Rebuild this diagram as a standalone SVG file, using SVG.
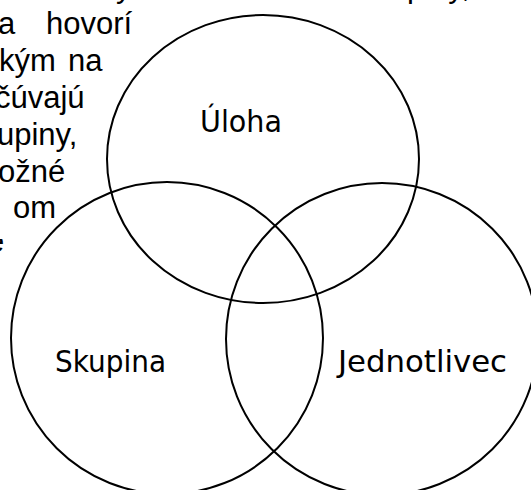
<svg xmlns="http://www.w3.org/2000/svg" width="531" height="490" viewBox="0 0 531 490">
  <style>
    .ring { fill: none; stroke: #000; stroke-width: 2; }
    .label { font-family: "DejaVu Sans", "Noto Sans", sans-serif; font-size: 30px; fill: #000; }
    .body { font-family: "Liberation Sans", Arial, sans-serif; font-size: 31px; fill: #000; }
  </style>
  <defs>
    <clipPath id="edgeClip">
      <rect x="0" y="239" width="4" height="13"/>
    </clipPath>
  </defs>
  <rect width="531" height="490" fill="#fff"/>

  <!-- paragraph text running beside the figure -->
  <g id="paragraph">
    <text class="body" x="116" y="-3">y</text>
    <text class="body" x="407" y="-3">piny,</text>
    <text class="body" x="-2" y="34">a</text>
    <text class="body" x="46" y="34">hovorí</text>
    <text class="body" x="-1" y="71">kým</text>
    <text class="body" x="68" y="71">na</text>
    <text class="body" x="-5" y="108">čúvajú</text>
    <text class="body" x="-3" y="145">upiny,</text>
    <text class="body" x="-2" y="182">ožné</text>
    <text class="body" x="13" y="218">om</text>
    <text class="body" x="-13" y="252" clip-path="url(#edgeClip)" fill="#666">e</text>
  </g>

  <!-- Venn diagram -->
  <g id="connectors"></g>
  <g id="uloha">
    <ellipse class="ring" cx="263" cy="159" rx="156" ry="144"/>
    <text class="label" x="200" y="132" textLength="82" lengthAdjust="spacingAndGlyphs">Úloha</text>
  </g>
  <g id="skupina">
    <circle class="ring" cx="167" cy="338" r="156"/>
    <text class="label" x="55" y="372" textLength="111" lengthAdjust="spacingAndGlyphs">Skupina</text>
  </g>
  <g id="jednotlivec">
    <circle class="ring" cx="382" cy="339" r="156"/>
    <text class="label" x="338" y="372" textLength="169" lengthAdjust="spacingAndGlyphs">Jednotlivec</text>
  </g>
</svg>
